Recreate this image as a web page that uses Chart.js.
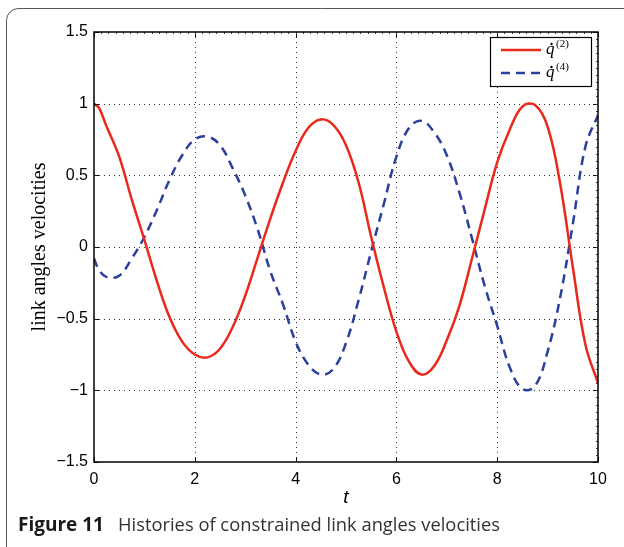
<!DOCTYPE html>
<html>
<head>
<meta charset="utf-8">
<script src="https://cdn.jsdelivr.net/npm/chart.js@4.4.1/dist/chart.umd.min.js"></script>
<style>
  html, body { margin: 0; padding: 0; background: #fff; }
  #wrap { position: relative; width: 624px; height: 547px; }
</style>
</head>
<body>
<div id="wrap"><canvas id="velocities" width="624" height="547"></canvas></div>
<script>
// sample times and the two velocity histories
const times = [0, 0.1, 0.25, 0.5, 0.75, 1, 1.25, 1.5, 1.75, 2, 2.25, 2.5, 2.75, 3, 3.25, 3.5, 3.75,
  4, 4.25, 4.5, 4.75, 5, 5.25, 5.5, 5.75, 6, 6.25, 6.5, 6.75, 7, 7.25, 7.5, 7.75,
  8, 8.25, 8.5, 8.75, 9, 9.25, 9.5, 9.75, 10];
const q2dot = [1.00, 0.97, 0.84, 0.63, 0.33, 0.05, -0.24, -0.49, -0.66, -0.75, -0.77, -0.71, -0.56,
  -0.34, -0.07, 0.20, 0.45, 0.67, 0.83, 0.89, 0.85, 0.71, 0.45, 0.07, -0.28, -0.59, -0.80,
  -0.89, -0.83, -0.65, -0.41, -0.08, 0.26, 0.59, 0.82, 0.98, 0.99, 0.84, 0.44, -0.14, -0.68, -0.95];
const q4dot = [-0.08, -0.16, -0.21, -0.20, -0.08, 0.07, 0.26, 0.47, 0.64, 0.75, 0.77, 0.71, 0.55,
  0.36, 0.12, -0.17, -0.40, -0.66, -0.82, -0.89, -0.85, -0.67, -0.37, -0.03, 0.30, 0.63, 0.83,
  0.88, 0.80, 0.64, 0.38, 0.06, -0.27, -0.55, -0.84, -0.99, -0.97, -0.73, -0.35, 0.16, 0.70, 0.92];

const xTicks = [0, 2, 4, 6, 8, 10];
const yTicks = [-1.5, -1, -0.5, 0, 0.5, 1, 1.5];
const seriesNames = ['(2)', '(4)'];
const captionBold = 'Figure 11';
const captionText = 'Histories of constrained link angles velocities';

const RED = '#e8291c';
const BLUE = '#2a3f9e';

function pts(ys) {
  return times.map((t, i) => ({x: t, y: ys[i]}));
}

function fmt(v) {
  return String(v).replace('-', '\u2212');
}

// dotted grid, inward ticks, box, legend and caption
const decorations = {
  id: 'decorations',
  beforeDatasetsDraw(chart) {
    const {ctx, chartArea: a, scales: {x, y}} = chart;
    ctx.save();
    ctx.strokeStyle = '#333';
    ctx.lineWidth = 1;
    ctx.setLineDash([1, 4]);
    xTicks.slice(1, -1).forEach(v => {
      const px = Math.round(x.getPixelForValue(v)) + 0.5;
      ctx.beginPath(); ctx.moveTo(px, a.top); ctx.lineTo(px, a.bottom); ctx.stroke();
    });
    yTicks.slice(1, -1).forEach(v => {
      const py = Math.round(y.getPixelForValue(v)) + 0.5;
      ctx.beginPath(); ctx.moveTo(a.left, py); ctx.lineTo(a.right, py); ctx.stroke();
    });
    ctx.restore();
  },
  afterDatasetsDraw(chart) {
    const {ctx, chartArea: a, scales: {x, y}} = chart;
    ctx.save();
    ctx.strokeStyle = '#111';
    ctx.lineWidth = 1;
    // major ticks pointing inward
    ctx.beginPath();
    xTicks.forEach(v => {
      const px = Math.round(x.getPixelForValue(v)) + 0.5;
      ctx.moveTo(px, a.bottom); ctx.lineTo(px, a.bottom - 5);
      ctx.moveTo(px, a.top); ctx.lineTo(px, a.top + 5);
    });
    yTicks.forEach(v => {
      const py = Math.round(y.getPixelForValue(v)) + 0.5;
      ctx.moveTo(a.left, py); ctx.lineTo(a.left + 5, py);
      ctx.moveTo(a.right, py); ctx.lineTo(a.right - 5, py);
    });
    ctx.stroke();
    // minor ticks on top and right edges
    ctx.strokeStyle = '#444';
    ctx.beginPath();
    for (let v = 0; v <= 10; v += 1 / 7) {
      const px = Math.round(x.getPixelForValue(v)) + 0.5;
      ctx.moveTo(px, a.top); ctx.lineTo(px, a.top + 2);
    }
    for (let v = -1.5; v <= 1.5; v += 0.05) {
      const py = Math.round(y.getPixelForValue(v)) + 0.5;
      ctx.moveTo(a.right, py); ctx.lineTo(a.right - 2, py);
    }
    ctx.stroke();
    // axes box
    ctx.strokeStyle = '#000';
    ctx.lineWidth = 1.5;
    ctx.strokeRect(a.left, a.top, a.right - a.left, a.bottom - a.top);

    // legend
    const lx = 490, ly = 37, lw = 101, lh = 49;
    ctx.fillStyle = '#fff';
    ctx.fillRect(lx, ly, lw, lh);
    ctx.strokeStyle = '#000';
    ctx.lineWidth = 1.2;
    ctx.strokeRect(lx + 0.5, ly + 0.5, lw, lh);
    const rows = [
      {color: RED, dash: [], y: ly + 13},
      {color: BLUE, dash: [9, 6], y: ly + 36}
    ];
    rows.forEach((r, i) => {
      ctx.strokeStyle = r.color;
      ctx.lineWidth = 2.5;
      ctx.setLineDash(r.dash);
      ctx.beginPath(); ctx.moveTo(lx + 11, r.y); ctx.lineTo(lx + 51, r.y); ctx.stroke();
      ctx.setLineDash([]);
      ctx.fillStyle = '#000';
      ctx.textBaseline = 'alphabetic';
      ctx.textAlign = 'left';
      ctx.font = 'italic 17px "Liberation Serif"';
      ctx.fillText('q', lx + 56, r.y + 4);
      // time-derivative dot over q
      ctx.beginPath();
      ctx.arc(lx + 61.5, r.y - 6, 1.2, 0, Math.PI * 2);
      ctx.fill();
      ctx.font = '11px "Liberation Serif"';
      ctx.fillText(seriesNames[i], lx + 66, r.y - 3);
    });

    // axis titles
    ctx.fillStyle = '#000';
    ctx.font = 'italic 19px "Liberation Sans"';
    ctx.textAlign = 'center';
    ctx.fillText('t', (a.left + a.right) / 2, 503);
    ctx.save();
    ctx.translate(45, (a.top + a.bottom) / 2);
    ctx.rotate(-Math.PI / 2);
    ctx.font = '20px "Liberation Serif"';
    ctx.fillText('link angles velocities', 0, 0);
    ctx.restore();

    // caption
    ctx.textAlign = 'left';
    ctx.fillStyle = '#1a1a1a';
    ctx.font = 'bold 19px "Open Sans"';
    ctx.fillText(captionBold, 18, 531);
    ctx.fillStyle = '#333';
    ctx.font = '18px "Open Sans"';
    const rw = ctx.measureText(captionText).width;
    ctx.save();
    ctx.translate(118, 531);
    ctx.scale(382 / rw, 1);
    ctx.fillText(captionText, 0, 0);
    ctx.restore();

    // figure frame
    ctx.strokeStyle = '#555';
    ctx.lineWidth = 1;
    ctx.beginPath();
    ctx.moveTo(630, 8.5);
    ctx.lineTo(18, 8.5);
    ctx.arcTo(6.5, 8.5, 6.5, 20, 12);
    ctx.lineTo(6.5, 560);
    ctx.stroke();
    ctx.restore();
  }
};

new Chart(document.getElementById('velocities'), {
  type: 'line',
  data: {
    datasets: [
      {data: pts(q2dot), borderColor: RED, borderWidth: 2.5, pointRadius: 0,
        tension: 0.4, fill: false},
      {data: pts(q4dot), borderColor: BLUE, borderWidth: 2.5, borderDash: [9, 6], pointRadius: 0,
        tension: 0.4, fill: false}
    ]
  },
  options: {
    responsive: false,
    animation: false,
    layout: {padding: {left: 0, top: 32, right: 26, bottom: 0}},
    plugins: {legend: {display: false}, tooltip: {enabled: false}},
    scales: {
      x: {
        type: 'linear', min: 0, max: 10,
        afterBuildTicks: s => { s.ticks = xTicks.map(v => ({value: v})); },
        afterFit: s => { s.height = 85; },
        grid: {display: false, drawTicks: false},
        border: {display: false},
        ticks: {color: '#000', padding: 8, font: {family: 'Liberation Sans', size: 16},
          maxRotation: 0, callback: v => fmt(v)}
      },
      y: {
        type: 'linear', min: -1.5, max: 1.5,
        afterBuildTicks: s => { s.ticks = yTicks.map(v => ({value: v})); },
        afterFit: s => { s.width = 94; },
        grid: {display: false, drawTicks: false},
        border: {display: false},
        ticks: {color: '#000', padding: 6, font: {family: 'Liberation Sans', size: 16},
          callback: v => fmt(v)}
      }
    }
  },
  plugins: [decorations]
});
</script>
</body>
</html>
